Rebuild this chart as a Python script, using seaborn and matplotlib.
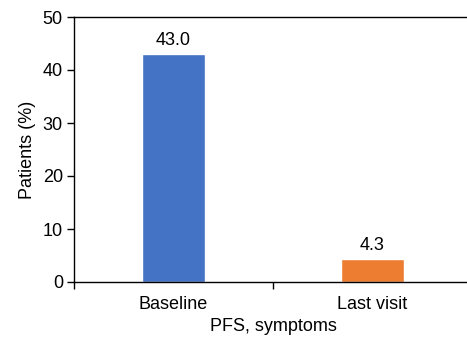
import matplotlib
matplotlib.use("Agg")
import matplotlib.pyplot as plt
import seaborn as sns
import pandas as pd

categories = ["Baseline", "Last visit"]
values = [43.0, 4.3]
colors = ["#4472C4", "#ED7D31"]
y_ticks = [0, 10, 20, 30, 40, 50]

sns.set_style("white")
plt.rcParams['font.family'] = ['Liberation Sans', 'DejaVu Sans']
plt.rcParams['text.color'] = 'black'
plt.rcParams['axes.labelcolor'] = 'black'
plt.rcParams['xtick.color'] = 'black'
plt.rcParams['ytick.color'] = 'black'

fs = 13
df = pd.DataFrame({"cat": categories, "val": values})
fig = plt.figure(figsize=(4.67, 3.39), dpi=100)
ax = fig.add_axes([74/467, 57/339, 398/467, 265/339])
sns.barplot(data=df, x="cat", y="val", hue="cat", palette=colors, width=0.32,
            legend=False, ax=ax, saturation=1)
for i, v in enumerate(values):
    ax.text(i, v + 0.9, f"{v:.1f}", ha="center", va="bottom", fontsize=fs)
ax.set_xlim(-0.5, 1.5)
ax.set_ylim(0, 50)
ax.set_yticks(y_ticks)
ax.set_xticks([0, 1])
ax.set_xticks([-0.5, 0.5, 1.5], minor=True)
ax.tick_params(axis="x", which="major", length=0, labelsize=fs, pad=10)
ax.tick_params(axis="x", which="minor", length=5, width=1, direction="out", bottom=True)
ax.tick_params(axis="y", length=5, width=1, direction="out", left=True, labelsize=fs, pad=3)
ax.set_xlabel("PFS, symptoms", fontsize=fs, labelpad=4)
ax.set_ylabel("Patients (%)", fontsize=fs, labelpad=5)
for s in ["left", "bottom", "top"]:
    ax.spines[s].set_visible(True)
    ax.spines[s].set_color("black")
    ax.spines[s].set_linewidth(1)
ax.spines["right"].set_visible(False)
fig.savefig("out.png", dpi=100)
